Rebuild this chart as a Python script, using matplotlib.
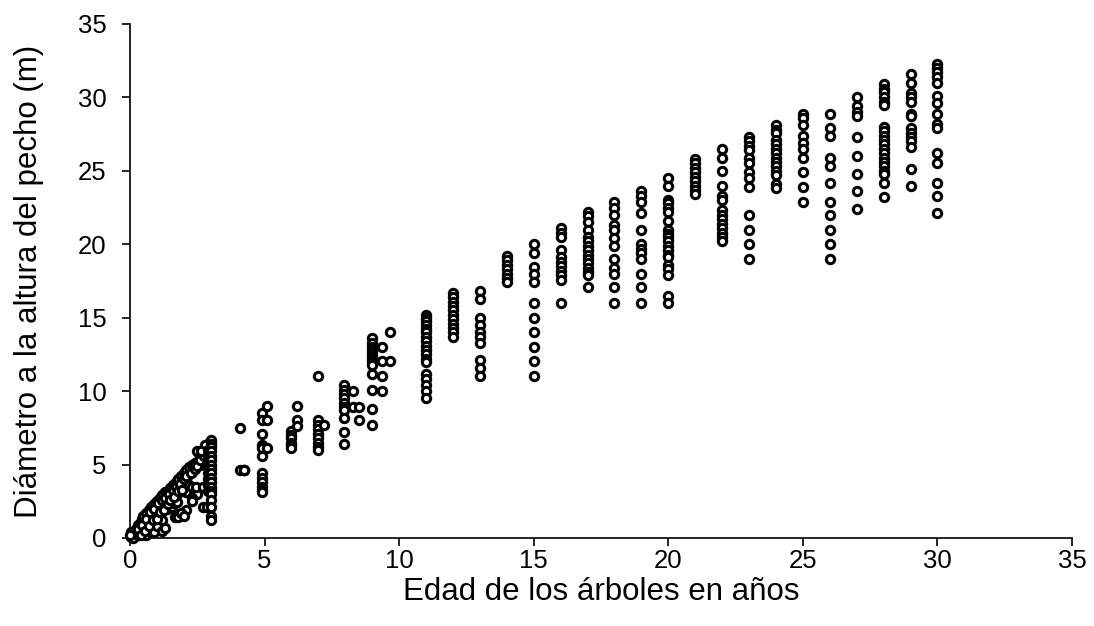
import numpy as np
import matplotlib.pyplot as plt

plt.rcParams["font.family"] = ["Liberation Sans", "DejaVu Sans"]

# arboles jovenes (0-3 anios), puntos sueltos
joven_x = [0.05, 0.1, 0.15, 0.2, 0.25, 0.3, 0.35, 0.4, 0.45, 0.5, 0.5, 0.55, 0.6, 0.65, 0.7,
           0.75, 0.8, 0.85, 0.9, 0.95, 1.0, 1.05, 1.1, 1.15, 1.2, 1.3, 1.35, 1.4, 1.5, 1.55,
           1.6, 1.7, 1.75, 1.8, 1.9, 1.95, 2.0, 2.1, 2.15, 2.2, 2.3, 2.35, 2.4, 2.5, 2.55,
           2.6, 2.7, 2.8, 2.85, 2.9, 2.95, 3.0,
           0.1, 0.2, 0.3, 0.4, 0.5, 0.6, 0.6, 0.7, 0.7, 0.8, 0.8, 0.9, 0.9, 1.0, 1.0, 1.1,
           1.2, 1.2, 1.3, 0.05, 0.0,
           1.37, 1.55, 1.6, 1.75, 1.75, 1.67, 1.8, 2.1, 2.1, 2.2, 2.3, 2.4, 2.5, 2.3, 2.3,
           2.1, 2.3, 2.5, 2.45, 1.9, 2.0, 2.7, 2.7, 2.85,
           0.3, 0.45, 0.6, 0.75, 0.9, 1.05, 1.2, 1.3, 1.45, 1.6, 1.7, 1.85, 2.0, 2.1, 2.25,
           2.4, 2.5, 2.6, 2.75, 2.8, 2.65, 0.4, 0.55, 0.7, 0.85, 1.0, 1.1, 1.25, 1.4, 1.5,
           1.65, 1.8, 1.95]
joven_y = [0.1, 0.3, 0.5, 0.2, 0.7, 0.9, 0.4, 1.1, 1.3, 0.6, 1.5, 1.0, 1.7, 1.2, 1.9,
           1.5, 2.1, 1.8, 2.3, 2.0, 2.5, 2.2, 2.7, 2.4, 2.9, 3.1, 2.8, 3.2, 3.4, 3.1,
           3.6, 3.8, 3.5, 4.0, 4.2, 3.9, 4.4, 4.6, 4.3, 4.8, 5.0, 4.7, 5.1, 5.2, 5.8,
           5.0, 5.4, 5.7, 6.1, 6.3, 6.5, 6.6,
           0.0, 0.5, 0.2, 0.6, 0.3, 0.9, 0.2, 0.5, 1.2, 0.8, 1.5, 0.4, 1.1, 0.8, 1.7, 1.3,
           0.5, 1.2, 0.7, 0.4, 0.2,
           2.0, 2.1, 2.4, 3.0, 2.45, 1.4, 1.4, 3.4, 3.1, 3.6, 3.5, 3.1, 3.0, 2.7, 2.5,
           1.9, 4.5, 5.9, 3.5, 1.7, 1.5, 3.5, 2.1, 2.1,
           0.6, 0.9, 1.3, 1.8, 2.0, 2.4, 2.6, 2.7, 3.0, 3.3, 3.5, 3.7, 4.0, 4.2, 4.4,
           4.7, 4.9, 5.3, 5.6, 6.3, 5.9, 0.2, 0.5, 0.8, 1.2, 1.3, 1.8, 1.9, 2.3, 2.6,
           2.8, 3.2, 3.3]

# columnas por edad: diametros (m)
d_2_9 = [6.0, 5.6, 5.2, 4.8, 4.4, 4.0, 3.6, 3.2]
d_3_0 = [6.7, 6.4, 6.2, 5.9, 5.6, 5.3, 5.0, 4.7, 4.4, 4.1, 3.8, 3.5, 3.2, 3.0, 2.6, 2.1, 1.5, 1.2]
d_4_1 = [7.5, 4.6]
d_4_2 = [4.6, 4.6, 4.6]
d_4_9 = [8.5, 8.0, 7.1, 6.3, 6.1, 5.6, 4.4, 4.1, 3.8, 3.5, 3.3, 3.1]
d_5_1 = [9.0, 8.0, 6.1]
d_6_0 = [7.3, 7.0, 6.8, 6.5, 6.3, 6.1]
d_6_2 = [9.0, 8.0, 7.6]
d_7_0 = [11.0, 8.0, 7.7, 7.4, 7.1, 6.8, 6.5, 6.2, 6.0]
d_7_2 = [7.7]
d_7_95 = [10.4, 10.1, 9.8, 9.5, 9.2, 8.9, 8.7, 8.2, 7.2, 6.4]
d_8_3 = [10.0, 8.9]
d_8_5 = [8.9, 8.0]
d_9_0 = [13.6, 13.3, 13.0, 12.8, 12.6, 12.4, 12.2, 12.0, 11.8, 11.2, 10.1, 8.8, 7.7]
d_9_35 = [13.0, 12.05, 11.0, 10.0]
d_9_65 = [14.0, 12.05]
d_11 = [15.2, 15.0, 14.8, 14.5, 14.2, 14.0, 13.7, 13.4, 13.1, 12.8, 12.5, 12.2, 12.0,
        11.2, 10.8, 10.4, 10.0, 9.5]
d_12 = [16.7, 16.4, 16.1, 15.8, 15.5, 15.2, 14.9, 14.6, 14.3, 14.0, 13.7]
d_13 = [16.8, 16.3, 15.0, 14.5, 14.0, 13.7, 13.3, 12.1, 11.6, 11.0]
d_14 = [19.2, 18.9, 18.6, 18.3, 18.0, 17.7, 17.4]
d_15 = [20.0, 19.4, 18.45, 18.0, 17.4, 16.0, 15.0, 14.0, 13.0, 12.05, 11.0]
d_16 = [21.1, 20.8, 20.5, 19.6, 19.1, 18.8, 18.5, 18.2, 17.9, 17.6, 16.0]
d_17 = [22.2, 21.9, 21.5, 21.0, 20.5, 20.2, 19.9, 19.6, 19.3, 19.0, 18.7, 18.4, 18.1, 17.9, 17.1]
d_18 = [22.9, 22.5, 22.0, 21.3, 21.0, 20.4, 19.9, 19.0, 18.4, 18.0, 17.1, 16.0]
d_19 = [23.6, 23.3, 22.9, 22.1, 21.0, 20.0, 19.7, 19.4, 19.0, 18.0, 17.1, 16.0]
d_20 = [24.5, 24.0, 23.0, 22.8, 22.5, 22.2, 21.6, 21.0, 20.7, 20.5, 20.2, 19.9, 19.6,
        19.3, 19.1, 18.6, 18.3, 17.9, 16.5, 16.0]
d_21 = [25.8, 25.5, 25.2, 24.9, 24.6, 24.3, 24.0, 23.7, 23.4]
d_22 = [26.5, 25.9, 25.0, 24.0, 23.3, 23.0, 22.3, 22.0, 21.7, 21.4, 21.1, 20.8, 20.5, 20.2]
d_23 = [27.3, 27.0, 26.7, 26.4, 25.9, 25.5, 24.9, 24.5, 23.9, 22.0, 21.0, 20.0, 19.0]
d_24 = [28.1, 27.8, 27.6, 27.1, 26.8, 26.5, 26.2, 25.9, 25.6, 25.3, 25.0, 24.7, 24.1, 23.8]
d_25 = [28.9, 28.6, 28.1, 27.4, 26.9, 26.5, 25.9, 24.9, 23.9, 22.9]
d_26 = [28.9, 27.9, 27.4, 25.9, 25.3, 24.2, 22.9, 22.0, 21.0, 20.0, 19.0]
d_27 = [30.0, 29.4, 29.0, 28.7, 27.3, 26.0, 24.8, 23.6, 22.4]
d_28 = [30.9, 30.6, 30.4, 30.0, 29.7, 29.5, 28.0, 27.7, 27.4, 27.1, 26.8, 26.5, 26.2,
        25.9, 25.6, 25.3, 25.0, 24.8, 24.2, 23.2]
d_29 = [31.6, 31.0, 30.3, 30.0, 29.7, 28.9, 28.7, 27.9, 27.6, 27.3, 27.0, 26.6, 25.1, 24.0]
d_30 = [32.3, 32.0, 31.7, 31.4, 31.0, 30.1, 29.6, 28.9, 28.2, 27.9, 26.2, 25.5, 24.2, 23.3, 22.1]

columnas = [
    (2.9, d_2_9), (3.0, d_3_0), (4.1, d_4_1), (4.25, d_4_2), (4.9, d_4_9), (5.1, d_5_1),
    (6.0, d_6_0), (6.2, d_6_2), (7.0, d_7_0), (7.2, d_7_2), (7.95, d_7_95), (8.3, d_8_3),
    (8.5, d_8_5), (9.0, d_9_0), (9.35, d_9_35), (9.65, d_9_65), (11, d_11), (12, d_12),
    (13, d_13), (14, d_14), (15, d_15), (16, d_16), (17, d_17), (18, d_18), (19, d_19),
    (20, d_20), (21, d_21), (22, d_22), (23, d_23), (24, d_24), (25, d_25), (26, d_26),
    (27, d_27), (28, d_28), (29, d_29), (30, d_30),
]

edad = list(joven_x)
diam = list(joven_y)
for e, ds in columnas:
    edad += [e] * len(ds)
    diam += ds
edad = np.array(edad, dtype=float)
diam = np.array(diam, dtype=float)

fig = plt.figure(figsize=(10.94, 6.26), dpi=100)
ax = fig.add_axes([0.1188, 0.1406, 0.8611, 0.8211])

ax.scatter(edad, diam, s=36, facecolors="white", edgecolors="black", linewidths=2.2,
           zorder=3, clip_on=False)

ax.set_xlim(0, 35)
ax.set_ylim(0, 35)
ax.set_xticks(range(0, 36, 5))
ax.set_yticks(range(0, 36, 5))
ax.spines["top"].set_visible(False)
ax.spines["right"].set_visible(False)
for s in ["left", "bottom"]:
    ax.spines[s].set_linewidth(1.2)
ax.tick_params(direction="out", length=6, width=1.2, labelsize=18.5)
ax.tick_params(axis="x", pad=2)
ax.tick_params(axis="y", pad=11)

ax.set_xlabel("Edad de los árboles en años", fontsize=22.5, labelpad=3)
ax.set_ylabel("Diámetro a la altura del pecho (m)", fontsize=22.5, labelpad=24)

fig.savefig("out.png", dpi=100)
